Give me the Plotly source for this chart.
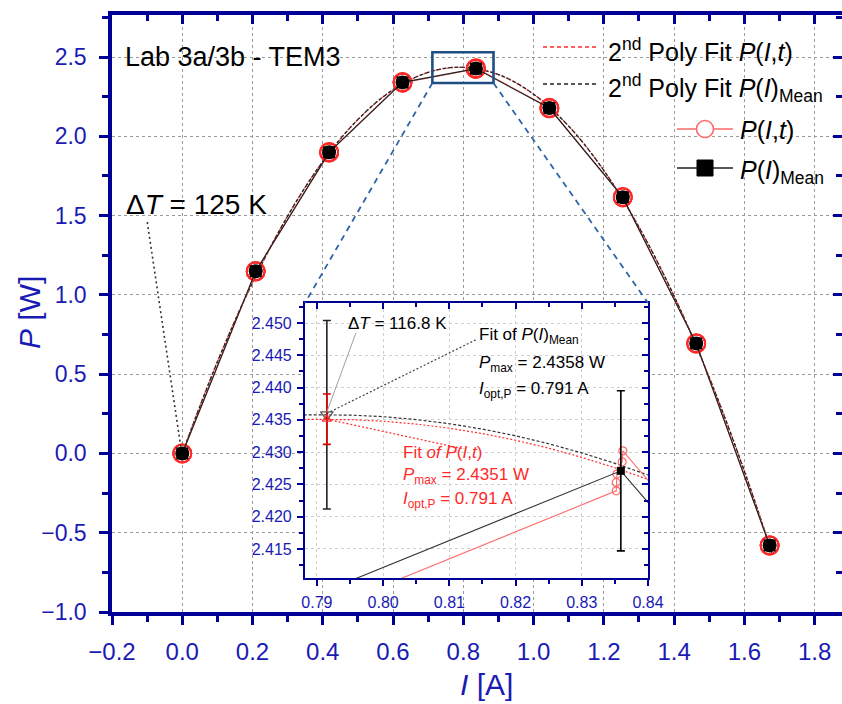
import plotly.graph_objects as go

# ---------------- data ----------------
# P(I)_Mean : mean power per current step
I_mean = [0.0, 0.209, 0.418, 0.627, 0.8359, 1.045, 1.254, 1.463, 1.672]
P_mean = [0.000, 1.149, 1.899, 2.340, 2.4271, 2.178, 1.616, 0.694, -0.580]
P_mean_err = [0.012, 0.012, 0.012, 0.012, 0.0124, 0.012, 0.012, 0.012, 0.012]

# P(I,t) : time resolved measurements (several per current step)
I_t = [0.0, 0.0, 0.0, 0.0,
       0.209, 0.209, 0.209, 0.209,
       0.418, 0.418, 0.418, 0.418,
       0.627, 0.627, 0.627, 0.627,
       0.8352, 0.8352, 0.8353, 0.8361, 0.8362,
       1.045, 1.045, 1.045, 1.045,
       1.254, 1.254, 1.254, 1.254,
       1.463, 1.463, 1.463, 1.463,
       1.672, 1.672, 1.672, 1.672]
P_t = [0.000, 0.001, -0.001, 0.000,
       1.146, 1.149, 1.151, 1.148,
       1.896, 1.899, 1.902, 1.900,
       2.343, 2.341, 2.339, 2.337,
       2.4240, 2.4253, 2.4266, 2.4285, 2.4302,
       2.180, 2.178, 2.176, 2.177,
       1.618, 1.616, 1.614, 1.615,
       0.696, 0.694, 0.692, 0.693,
       -0.578, -0.580, -0.582, -0.581]

# 2nd order polynomial fits (main view)
I_fit = [0.0, 0.1, 0.2, 0.3, 0.4, 0.5, 0.6, 0.7, 0.791, 0.9, 1.0, 1.1, 1.2, 1.3, 1.4, 1.5, 1.6, 1.68]
P_fit_mean = [0.0000, 0.5769, 1.0760, 1.4973, 1.8406, 2.1061, 2.2938, 2.4036, 2.4358, 2.3895,
              2.2658, 2.0641, 1.7846, 1.4271, 0.9919, 0.4788, -0.1121, -0.6410]
P_fit_t = [0.0043, 0.5800, 1.0781, 1.4984, 1.8411, 2.1060, 2.2934, 2.4029, 2.4351, 2.3889,
           2.2654, 2.0642, 1.7852, 1.4285, 0.9942, 0.4821, -0.1076, -0.6352]

# fits read in the zoomed inset
I_fit_z = [0.788, 0.791, 0.795, 0.800, 0.805, 0.810, 0.815, 0.820, 0.825, 0.830, 0.835, 0.840]
P_fit_mean_z = [2.43577, 2.43580, 2.43574, 2.43549, 2.43504, 2.43440, 2.43356, 2.43253,
                2.43130, 2.42988, 2.42826, 2.42645]
P_fit_t_z = [2.43507, 2.43510, 2.43504, 2.43479, 2.43434, 2.43370, 2.43287, 2.43184,
             2.43061, 2.42919, 2.42758, 2.42577]

# fitted maxima with uncertainties
I_opt = [0.7915]
P_max_mean = [2.4358]
P_max_mean_err = [0.0146]
P_max_t = [2.4351]
P_max_t_err = [0.0039]

# tick settings / ranges
X_RANGE = [-0.2, 1.878]
Y_RANGE = [-1.0, 2.765]
XZ_RANGE = [0.7882, 0.840]
YZ_RANGE = [2.4105, 2.4531]
ZOOM_BOX = [0.712, 0.886, 2.336, 2.530]  # x0, x1, y0, y1 of the highlighted box

# ---------------- styling ----------------
FONT = "Liberation Sans, Arial, sans-serif"
AX = "#000096"
TK = "#1a1ab4"
RED = "#ff2a2a"
LRED = "#ff6a6a"
BLK = "#222222"

W, H = 842, 704
L, R, T, B = 112, 0, 15, 92
PW, PH = W - L - R, H - T - B


def px(x):
    return (x - L) / PW


def py(y):
    return (H - B - y) / PH


inset_x = [px(305), px(648)]
inset_y = [py(578), py(303)]

fig = go.Figure()

# ---- main plot traces ----
fig.add_trace(go.Scatter(x=I_fit, y=P_fit_t, mode="lines", line=dict(color=RED, width=1.3, dash="2px,2px", shape="spline"),
                         xaxis="x", yaxis="y", showlegend=False))
fig.add_trace(go.Scatter(x=I_fit, y=P_fit_mean, mode="lines", line=dict(color=BLK, width=1.3, dash="4px,2px", shape="spline"),
                         xaxis="x", yaxis="y", showlegend=False))
fig.add_trace(go.Scatter(x=I_t, y=P_t, mode="lines+markers", line=dict(color=LRED, width=1.2),
                         marker=dict(symbol="circle-open", size=18, color=RED, line=dict(width=1.8, color=RED)),
                         xaxis="x", yaxis="y", showlegend=False))
fig.add_trace(go.Scatter(x=I_mean, y=P_mean, mode="lines+markers", line=dict(color=BLK, width=1.2),
                         marker=dict(symbol="square", size=12, color="black"),
                         xaxis="x", yaxis="y", showlegend=False))
fig.add_trace(go.Scatter(x=I_mean, y=P_mean, mode="markers",
                         marker=dict(symbol="circle", size=14, color="black"),
                         xaxis="x", yaxis="y", showlegend=False, hoverinfo="skip"))

# ---- inset traces ----
fig.add_trace(go.Scatter(x=I_fit_z, y=P_fit_t_z, mode="lines", line=dict(color=RED, width=1.2, dash="2px,2px"),
                         xaxis="x2", yaxis="y2", showlegend=False))
fig.add_trace(go.Scatter(x=I_fit_z, y=P_fit_mean_z, mode="lines", line=dict(color="#333333", width=1.2, dash="3px,2px"),
                         xaxis="x2", yaxis="y2", showlegend=False))
fig.add_trace(go.Scatter(x=I_t, y=P_t, mode="lines+markers", line=dict(color=LRED, width=1.1),
                         marker=dict(symbol="circle-open", size=8, color=LRED, line=dict(width=1.2, color=LRED)),
                         xaxis="x2", yaxis="y2", showlegend=False))
fig.add_trace(go.Scatter(x=I_mean, y=P_mean, mode="lines+markers", line=dict(color="#333333", width=1.1),
                         marker=dict(symbol="square", size=8, color="black"),
                         error_y=dict(type="data", array=P_mean_err, color="black", thickness=1.6, width=4),
                         xaxis="x2", yaxis="y2", showlegend=False))
fig.add_trace(go.Scatter(x=I_opt, y=P_max_mean, mode="markers",
                         marker=dict(symbol="triangle-down-open", size=11, color="#555555", line=dict(width=1.2)),
                         error_y=dict(type="data", array=P_max_mean_err, color="#222222", thickness=1.6, width=4),
                         xaxis="x2", yaxis="y2", showlegend=False))
fig.add_trace(go.Scatter(x=I_opt, y=P_max_t, mode="markers",
                         marker=dict(symbol="triangle-up-open", size=8, color=RED, line=dict(width=1.2)),
                         error_y=dict(type="data", array=P_max_t_err, color="#dd0000", thickness=1.6, width=4),
                         xaxis="x2", yaxis="y2", showlegend=False))

# dummy traces so that the mirror tick axes get drawn
fig.add_trace(go.Scatter(x=[None], y=[None], xaxis="x3", yaxis="y3", showlegend=False, hoverinfo="skip"))
fig.add_trace(go.Scatter(x=[None], y=[None], xaxis="x4", yaxis="y4", showlegend=False, hoverinfo="skip"))

grid_main = dict(showgrid=True, gridcolor="#9a9a9a", griddash="dot", gridwidth=1)
grid_inset = dict(showgrid=True, gridcolor="#cfcfcf", griddash="dot", gridwidth=1)

fig.update_layout(
    width=W, height=H, margin=dict(l=L, r=R, t=T, b=B, autoexpand=False),
    paper_bgcolor="white", plot_bgcolor="white",
    font=dict(family=FONT, color="black"),
    showlegend=False,
    xaxis=dict(domain=[0, 1], anchor="y", range=X_RANGE, tick0=-0.2, dtick=0.2, tickformat=".1f",
               ticks="outside", ticklen=9, tickwidth=3, tickcolor=AX, automargin=False,
               minor=dict(ticks="outside", ticklen=6, tickwidth=3, tickcolor=AX, dtick=0.1, showgrid=False),
               showline=True, linewidth=3.5, linecolor=AX, mirror=True, zeroline=False,
               tickfont=dict(size=24, color=TK, family=FONT), ticklabelstandoff=6, **grid_main),
    yaxis=dict(domain=[0, 1], anchor="x", range=Y_RANGE, tick0=-1.0, dtick=0.5, tickformat=".1f",
               ticks="outside", ticklen=9, tickwidth=3, tickcolor=AX, automargin=False,
               minor=dict(ticks="outside", ticklen=6, tickwidth=3, tickcolor=AX, dtick=0.25, showgrid=False),
               showline=True, linewidth=3.5, linecolor=AX, mirror=True, zeroline=False,
               tickfont=dict(size=23, color=TK, family=FONT), ticklabelstandoff=8, **grid_main),
    xaxis3=dict(overlaying="x", side="top", anchor="y", range=X_RANGE, tick0=-0.2, dtick=0.2, automargin=False,
                ticks="inside", ticklen=9, tickwidth=3, tickcolor=AX, showticklabels=False,
                minor=dict(ticks="inside", ticklen=6, tickwidth=3, tickcolor=AX, dtick=0.1),
                showgrid=False, zeroline=False, showline=False),
    yaxis3=dict(overlaying="y", side="right", anchor="x", range=Y_RANGE, tick0=-1.0, dtick=0.5, automargin=False,
                ticks="inside", ticklen=9, tickwidth=3, tickcolor=AX, showticklabels=False,
                minor=dict(ticks="inside", ticklen=6, tickwidth=3, tickcolor=AX, dtick=0.25),
                showgrid=False, zeroline=False, showline=False),
    xaxis2=dict(domain=inset_x, anchor="y2", range=XZ_RANGE, tick0=0.79, dtick=0.01, tickformat=".2f",
                ticks="outside", ticklen=6, tickwidth=2, tickcolor=AX, automargin=False,
                minor=dict(ticks="outside", ticklen=4, tickwidth=2, tickcolor=AX, dtick=0.005, showgrid=False),
                showline=True, linewidth=2.2, linecolor=AX, mirror=True, zeroline=False,
                tickfont=dict(size=16, color=TK, family=FONT), ticklabelstandoff=3, **grid_inset),
    yaxis2=dict(domain=inset_y, anchor="x2", range=YZ_RANGE, tick0=2.41, dtick=0.005, tickformat=".3f",
                ticks="outside", ticklen=6, tickwidth=2, tickcolor=AX, automargin=False,
                minor=dict(ticks="outside", ticklen=4, tickwidth=2, tickcolor=AX, dtick=0.0025, showgrid=False),
                showline=True, linewidth=2.2, linecolor=AX, mirror=True, zeroline=False,
                tickfont=dict(size=16, color=TK, family=FONT), ticklabelstandoff=2, **grid_inset),
    xaxis4=dict(overlaying="x2", side="top", anchor="y2", domain=inset_x, range=XZ_RANGE, tick0=0.79, dtick=0.01,
                ticks="inside", ticklen=6, tickwidth=2, tickcolor=AX, showticklabels=False, automargin=False,
                minor=dict(ticks="inside", ticklen=4, tickwidth=2, tickcolor=AX, dtick=0.005),
                showgrid=False, zeroline=False, showline=False),
    yaxis4=dict(overlaying="y2", side="right", anchor="x2", domain=inset_y, range=YZ_RANGE, tick0=2.41, dtick=0.005,
                ticks="inside", ticklen=6, tickwidth=2, tickcolor=AX, showticklabels=False, automargin=False,
                minor=dict(ticks="inside", ticklen=4, tickwidth=2, tickcolor=AX, dtick=0.0025),
                showgrid=False, zeroline=False, showline=False),
)

shapes = []
# white background of inset (drawn in the inset subplot, below its own grid)
shapes.append(dict(type="rect", xref="x2", yref="y2", x0=XZ_RANGE[0], x1=XZ_RANGE[1], y0=YZ_RANGE[0], y1=YZ_RANGE[1],
                   fillcolor="white", line=dict(width=0), layer="below"))
# highlighted zoom box in main plot
shapes.append(dict(type="rect", xref="x", yref="y", x0=ZOOM_BOX[0], x1=ZOOM_BOX[1], y0=ZOOM_BOX[2], y1=ZOOM_BOX[3],
                   line=dict(color="#1f4e85", width=2.6), fillcolor="rgba(0,0,0,0)", layer="above"))


def dpx(x):
    return (x - X_RANGE[0]) / (X_RANGE[1] - X_RANGE[0])


def dpy(y):
    return (y - Y_RANGE[0]) / (Y_RANGE[1] - Y_RANGE[0])


shapes.append(dict(type="line", xref="paper", yref="paper", x0=dpx(ZOOM_BOX[0]), y0=dpy(ZOOM_BOX[2]),
                   x1=inset_x[0], y1=inset_y[1], line=dict(color="#2d64a8", width=1.8, dash="6px,5px"), layer="above"))
shapes.append(dict(type="line", xref="paper", yref="paper", x0=dpx(ZOOM_BOX[1]), y0=dpy(ZOOM_BOX[2]),
                   x1=inset_x[1], y1=inset_y[1], line=dict(color="#2d64a8", width=1.8, dash="6px,5px"), layer="above"))
# leader for Delta T = 125 K
shapes.append(dict(type="line", xref="x", yref="y", x0=-0.0996, y0=1.459, x1=-0.004, y1=0.04,
                   line=dict(color="#333333", width=1.6, dash="2px,3px")))
# inset leaders
shapes.append(dict(type="line", xref="x2", yref="y2", x0=0.7915, y0=2.4362, x1=0.7959, y1=2.4485,
                   line=dict(color="#a0a0a0", width=1)))
shapes.append(dict(type="line", xref="x2", yref="y2", x0=0.7915, y0=2.4360, x1=0.8142, y1=2.4475,
                   line=dict(color="#444444", width=1.2, dash="2px,2px")))
shapes.append(dict(type="line", xref="x2", yref="y2", x0=0.7915, y0=2.4351, x1=0.8122, y1=2.4305,
                   line=dict(color=RED, width=1.2, dash="2px,2px")))

# manual legend
shapes.append(dict(type="line", xref="paper", yref="paper", x0=px(543), x1=px(597), y0=py(47), y1=py(47),
                   line=dict(color=RED, width=1.3, dash="4px,3px")))
shapes.append(dict(type="line", xref="paper", yref="paper", x0=px(543), x1=px(597), y0=py(84), y1=py(84),
                   line=dict(color=BLK, width=1.3, dash="4px,3px")))
shapes.append(dict(type="line", xref="paper", yref="paper", x0=px(677), x1=px(733), y0=py(129), y1=py(129),
                   line=dict(color=LRED, width=1.6)))
shapes.append(dict(type="circle", xref="paper", yref="paper", x0=px(696.5), x1=px(713.5), y0=py(137.5), y1=py(120.5),
                   line=dict(color=LRED, width=1.6), fillcolor="white"))
shapes.append(dict(type="line", xref="paper", yref="paper", x0=px(677), x1=px(733), y0=py(168), y1=py(168),
                   line=dict(color=BLK, width=1.4)))
shapes.append(dict(type="rect", xref="paper", yref="paper", x0=px(697), x1=px(713), y0=py(176), y1=py(160),
                   line=dict(color="black", width=1), fillcolor="black"))
fig.update_layout(shapes=shapes)

ann = []


def text(x, y, s, size, color="black", anchor="left"):
    ann.append(dict(x=px(x), y=py(y), xref="paper", yref="paper", text=s, showarrow=False,
                    xanchor=anchor, yanchor="middle", font=dict(size=size, color=color, family=FONT)))


text(123, 57, "Lab 3a/3b - TEM3", 27)
text(124, 205, "Δ<i>T</i> = 125 K", 28)
text(606, 50, "2<sup>nd</sup> Poly Fit <i>P</i>(<i>I</i>,<i>t</i>)", 25)
text(606, 88, "2<sup>nd</sup> Poly Fit <i>P</i>(<i>I</i>)<sub>Mean</sub>", 25)
text(738, 130, "<i>P</i>(<i>I</i>,<i>t</i>)", 25)
text(738, 172, "<i>P</i>(<i>I</i>)<sub>Mean</sub>", 25)
# inset texts
text(346, 323, "Δ<i>T</i> = 116.8 K", 17)
text(477, 336, "Fit of <i>P</i>(<i>I</i>)<sub>Mean</sub>", 17)
text(477, 364, "<i>P</i><sub>max</sub> = 2.4358 W", 17)
text(477, 390, "<i>I</i><sub>opt,P</sub> = 0.791 A", 17)
text(401, 452, "Fit <i>of P</i>(<i>I</i>,<i>t</i>)", 17, RED)
text(401, 476, "<i>P</i><sub>max</sub> = 2.4351 W", 17, RED)
text(401, 500, "<i>I</i><sub>opt,P</sub> = 0.791 A", 17, RED)
# axis titles
text(486, 684, "<i>I</i> [A]", 30, TK, "center")
ann.append(dict(x=px(29), y=py(313), xref="paper", yref="paper", text="<i>P</i> [W]", showarrow=False,
                xanchor="center", yanchor="middle", textangle=-90, font=dict(size=30, color=TK, family=FONT)))
fig.update_layout(annotations=ann)

fig.write_html("out.html")
